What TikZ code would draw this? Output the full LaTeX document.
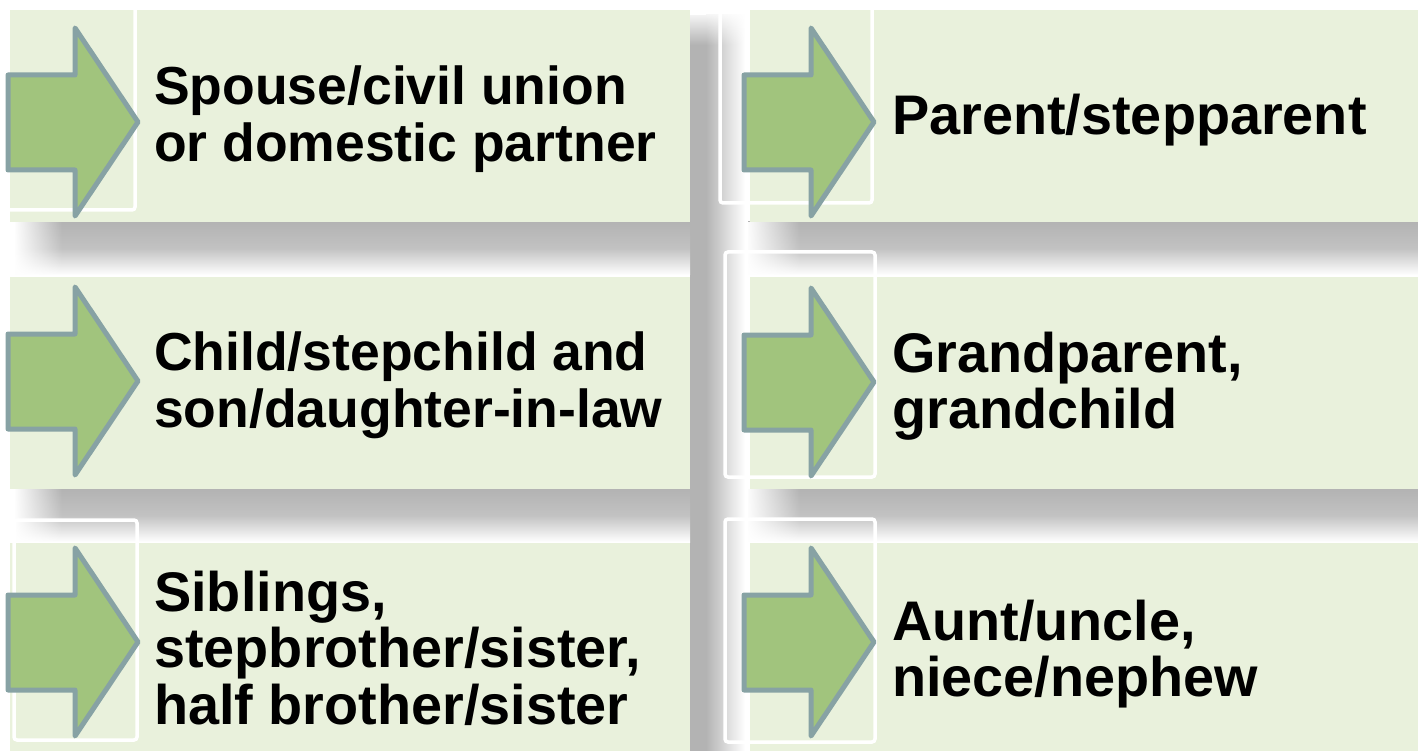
\documentclass[tikz,border=0pt]{standalone}
\usepackage{fontspec}
\setmainfont{Liberation Sans}
\usetikzlibrary{fadings}
\definecolor{boxfill}{HTML}{E9F1DC}
\definecolor{arrfill}{HTML}{A1C47D}
\definecolor{arrline}{HTML}{87A2A4}
\definecolor{shg}{HTML}{B3B3B3}
\tikzfading[name=fadeR, left color=transparent!0, right color=transparent!100]
\tikzfading[name=fadeD, top color=transparent!0, bottom color=transparent!100]
\tikzset{
  rowbox/.style={fill=boxfill, draw=none},
  frameline/.style={draw=white, line width=3.5pt, rounded corners=3pt},
  bigarrow/.style={fill=arrfill, draw=arrline, line width=5pt, line join=round},
  txt/.style={font=\bfseries\fontsize{53.5}{57}\selectfont, align=left, inner sep=0pt, anchor=west, text=black},
  txtbig/.style={txt, font=\bfseries\fontsize{55.8}{56.5}\selectfont},
  hshadow/.style={top color=shg, bottom color=white, middle color=shg!80!white},
}
\begin{document}
\begin{tikzpicture}[x=1pt,y=-1pt]
\useasboundingbox (0,0) rectangle (1418,751);
\fill[white] (0,0) rectangle (1418,751);
% vertical shadow between the columns
\fill[shg] (690,15) rectangle (706,751);
\shade[left color=shg, right color=white] (706,15) rectangle (745,751);
\fill[white, path fading=fadeD] (688,10) rectangle (747,45);
% horizontal shadows under the rows
\foreach \yb in {222,489} {
  \shade[hshadow] (15,\yb) rectangle (690,\yb+53);
  \fill[white, path fading=fadeR] (14,\yb) rectangle (62,\yb+54);
  \shade[hshadow] (748,\yb) rectangle (1418,\yb+53);
  \fill[white, path fading=fadeR] (746,\yb) rectangle (800,\yb+54);
}
% boxes
\fill[rowbox] (10,10) rectangle (690,222);
\fill[rowbox] (750,10) rectangle (1418,222);
\fill[rowbox] (10,277) rectangle (690,489);
\fill[rowbox] (750,277) rectangle (1418,489);
\fill[rowbox] (10,543) rectangle (690,760);
\fill[rowbox] (750,543) rectangle (1418,760);
% white frames
\draw[frameline] (0,-8) rectangle (135,210);
\draw[frameline] (14,520) rectangle (137,740);
\draw[frameline] (720,-8) rectangle (872,203);
\draw[frameline] (725,252) rectangle (875,477);
\draw[frameline] (725,519) rectangle (875,742);
% arrows
\foreach \L/\c in {8/122, 8/381, 8/642, 744/122, 744/382, 744/642} {
  \draw[bigarrow] (\L,\c-47) -- (\L+67,\c-47) -- (\L+67,\c-94) -- (\L+130,\c)
    -- (\L+67,\c+94) -- (\L+67,\c+48) -- (\L,\c+48) -- cycle;
}
% texts
\node[txt] (t1) at (154,119) {Spouse/civil union\\or domestic partner};
\node[txt] (t2) at (154,385) {Child/stepchild and\\son/daughter-in-law};
\node[txtbig] (t3) at (154,648) {Siblings,\\stepbrother/sister,\\half brother/sister};
\node[txtbig] (t4) at (892,120) {Parent/stepparent};
\node[txtbig] (t5) at (892,386) {Grandparent,\\grandchild};
\node[txtbig] (t6) at (892,654) {Aunt/uncle,\\niece/nephew};
\end{tikzpicture}
\end{document}
